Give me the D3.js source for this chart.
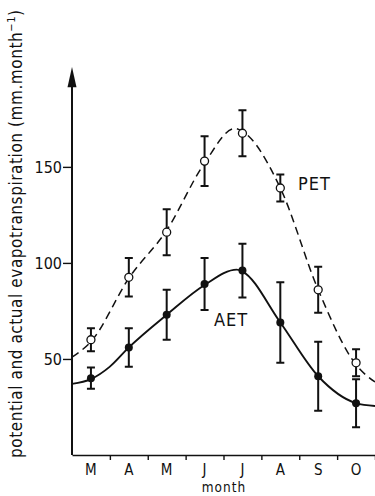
<!DOCTYPE html>
<html>
<head>
<meta charset="utf-8">
<script src="https://cdn.jsdelivr.net/npm/d3@7"></script>
<style>
  body { margin: 0; background: #fff; }
  svg { display: block; }
  text { font-family: "Liberation Sans Narrow", "DejaVu Sans Condensed", "Arial Narrow", sans-serif; fill: #111; }
</style>
</head>
<body>
<div id="wrapper"></div>
<script>
// months (x categories)
const months = ["M", "A", "M", "J", "J", "A", "S", "O"];
const monthNum = [3, 4, 5, 6, 7, 8, 9, 10];
const monthEdges = [3.5, 4.5, 5.5, 6.5, 7.5, 8.5, 9.5, 10.5];

// PET (open circles, dashed curve)
const petMean = [60, 92.5, 116, 153, 167.5, 139, 86, 48];
const petErr  = [6, 10, 12, 13, 12, 7, 12, 7];
// AET (filled circles, solid curve)
const aetMean = [40, 56, 73, 89, 96, 69, 41, 27];
const aetErr  = [5.5, 10, 13, 13.5, 14, 21, 18, 12.5];

// fitted curves
const petCurveX = [2.5, 3, 4, 5, 6, 6.8, 7, 8, 9, 10, 10.5];
const petCurveY = [51, 59, 92, 117, 152, 170, 168.5, 139, 86, 47, 38];
const aetCurveX = [2.5, 3, 3.5, 4, 5, 6, 6.85, 7, 8, 9, 10, 10.5];
const aetCurveY = [37, 39.5, 46, 56, 73, 88.5, 96.5, 95.5, 69, 41, 27, 25.5];

const yTicks = [50, 100, 150];

const W = 375, H = 496;
const svg = d3.select("#wrapper").append("svg")
    .attr("width", W).attr("height", H);

const x = d3.scaleLinear().domain([2.5, 10.5]).range([72, 375]);
const y = d3.scaleLinear().domain([0, 202]).range([455, 67]);

// curves
const line = d3.line()
    .x(d => x(d[0]))
    .y(d => y(d[1]))
    .curve(d3.curveMonotoneX);

svg.append("path")
    .datum(d3.zip(petCurveX, petCurveY))
    .attr("d", line)
    .attr("fill", "none")
    .attr("stroke", "#111")
    .attr("stroke-width", 1.5)
    .attr("stroke-dasharray", "8,5");

svg.append("path")
    .datum(d3.zip(aetCurveX, aetCurveY))
    .attr("d", line)
    .attr("fill", "none")
    .attr("stroke", "#111")
    .attr("stroke-width", 1.9);

// error bars
function errorBars(means, errs) {
    const data = d3.zip(monthNum, means, errs);
    const g = svg.append("g").attr("stroke", "#111").attr("stroke-width", 2).attr("fill", "none");
    g.selectAll("path")
        .data(data)
        .enter()
        .append("path")
        .attr("d", d => {
            const cx = x(d[0]), t = y(d[1] + d[2]), b = y(d[1] - d[2]);
            return `M${cx},${t}V${b}M${cx - 4},${t}H${cx + 4}M${cx - 4},${b}H${cx + 4}`;
        });
}
errorBars(petMean, petErr);
errorBars(aetMean, aetErr);

// markers
svg.selectAll(".pet")
    .data(d3.zip(monthNum, petMean))
    .enter()
    .append("circle")
        .attr("cx", d => x(d[0]))
        .attr("cy", d => y(d[1]))
        .attr("r", 4)
        .attr("fill", "#fff")
        .attr("stroke", "#111")
        .attr("stroke-width", 1.3);

svg.selectAll(".aet")
    .data(d3.zip(monthNum, aetMean))
    .enter()
    .append("circle")
        .attr("cx", d => x(d[0]))
        .attr("cy", d => y(d[1]))
        .attr("r", 4)
        .attr("fill", "#111");

// y axis
const yAxis = d3.axisLeft(y)
    .tickValues(yTicks)
    .tickSize(9)
    .tickSizeOuter(0)
    .tickPadding(1);
const gy = svg.append("g")
    .attr("transform", "translate(72,0)")
    .call(yAxis);
gy.select(".domain").remove();
gy.selectAll(".tick line").attr("stroke", "#111").attr("stroke-width", 1.4);
gy.selectAll(".tick text")
    .attr("font-size", 16)
    .attr("font-family", null)
    .attr("fill", "#111")
    .attr("dy", "0.36em");

svg.append("line")
    .attr("x1", 72).attr("x2", 72)
    .attr("y1", y(0)).attr("y2", y(196))
    .attr("stroke", "#111").attr("stroke-width", 2);
svg.append("path")
    .attr("d", `M72,${y(202)}L67.5,${y(191.5)}L76.5,${y(191.5)}Z`)
    .attr("fill", "#111");

// x axis
const xAxis = d3.axisBottom(x)
    .tickValues(monthEdges)
    .tickSize(5)
    .tickSizeOuter(0)
    .tickFormat("");
const gx = svg.append("g")
    .attr("transform", `translate(0,${y(0)})`)
    .call(xAxis);
gx.select(".domain").attr("stroke", "#111").attr("stroke-width", 1.6);
gx.selectAll(".tick line").attr("stroke", "#111").attr("stroke-width", 1.4);

svg.selectAll(".month")
    .data(d3.zip(monthNum, months))
    .enter()
    .append("text")
        .attr("x", d => x(d[0]))
        .attr("y", 475)
        .attr("text-anchor", "middle")
        .attr("font-size", 15)
        .text(d => d[1]);

svg.append("text")
    .attr("x", 224).attr("y", 492)
    .attr("text-anchor", "middle")
    .attr("font-size", 13.5)
    .attr("letter-spacing", 1)
    .text("month");

// y label
const yl = svg.append("text")
    .attr("transform", "translate(22,458) rotate(-90)")
    .attr("font-size", 17)
    .attr("textLength", 448)
    .attr("lengthAdjust", "spacing");
yl.append("tspan").text("potential and actual evapotranspiration (mm.month");
yl.append("tspan").attr("font-size", 11).attr("dy", -7).text("−1");
yl.append("tspan").attr("dy", 7).text(")");

// series labels
svg.append("text").attr("x", 298).attr("y", 190).attr("font-size", 18).attr("letter-spacing", 1).text("PET");
svg.append("text").attr("x", 214).attr("y", 326).attr("font-size", 18).attr("letter-spacing", 1).text("AET");
</script>
</body>
</html>
